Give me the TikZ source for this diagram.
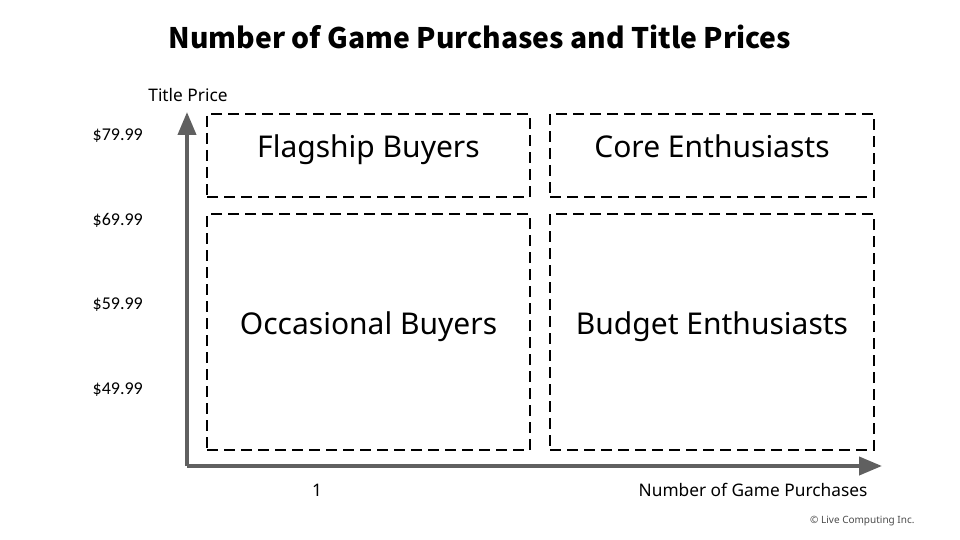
\documentclass[tikz,border=0pt]{standalone}
\usepackage{fontspec}
\setmainfont{Noto Sans}
\newfontfamily\tickfont{Carlito}
\newfontfamily\titlefont{Noto Sans CJK JP}
\usetikzlibrary{arrows.meta}

\begin{document}
\begin{tikzpicture}[x=1pt,y=-1pt,
  axis/.style={draw=axisgray, line width=4pt, -{Triangle[length=23pt,width=18pt]}},
  segbox/.style={draw, line width=1.6pt, dash pattern=on 11pt off 6pt, minimum width=#1, inner sep=0pt,
    text height=22pt, text depth=17pt, font=\fontsize{30}{33}\selectfont},
  tick/.style={anchor=base east, inner xsep=0pt, font=\tickfont\fontsize{18}{20}\selectfont},
  axlabel/.style={anchor=base, font=\fontsize{17.3}{20}\selectfont}
 ]
 \definecolor{axisgray}{HTML}{606060}
 \useasboundingbox (0,0) rectangle (960,540);
 \node[anchor=base] (title) at (480,49) {\titlefont\bfseries\fontsize{28.3}{32}\selectfont Number of Game Purchases and Title Prices};
 % quadrants
 \node[segbox=323pt, minimum height=83pt] (flag) at (368.5,155.5) {Flagship Buyers};
 \node[segbox=324pt, minimum height=83pt] (core) at (712,155.5) {Core Enthusiasts};
 \node[segbox=323pt, minimum height=236pt] (occ) at (368.5,332) {Occasional Buyers};
 \node[segbox=324pt, minimum height=236pt] (budg) at (712,332) {Budget Enthusiasts};
 % axes
 \coordinate (o) at (187,466);
 \coordinate (ytip) at (187,112);
 \coordinate (xtip) at (882,466);
 \path (o) edge[axis] (ytip) edge[axis] (xtip);
 \node[axlabel] (ylab) at (188,102) {Title Price};
 \node[axlabel] (xlab) at (753,496) {Number of Game Purchases};
 \node[axlabel] (one) at (317,496) {1};
 \node[tick] (p79) at (143,141) {\$79.99};
 \node[tick] (p69) at (143,225) {\$69.99};
 \node[tick] (p59) at (143,309.5) {\$59.99};
 \node[tick] (p49) at (143,394) {\$49.99};
 \node[anchor=base east, text=black!70, font=\fontsize{10}{12}\selectfont] (copy) at (918,523) {© Live Computing Inc.};
\end{tikzpicture}
\end{document}
